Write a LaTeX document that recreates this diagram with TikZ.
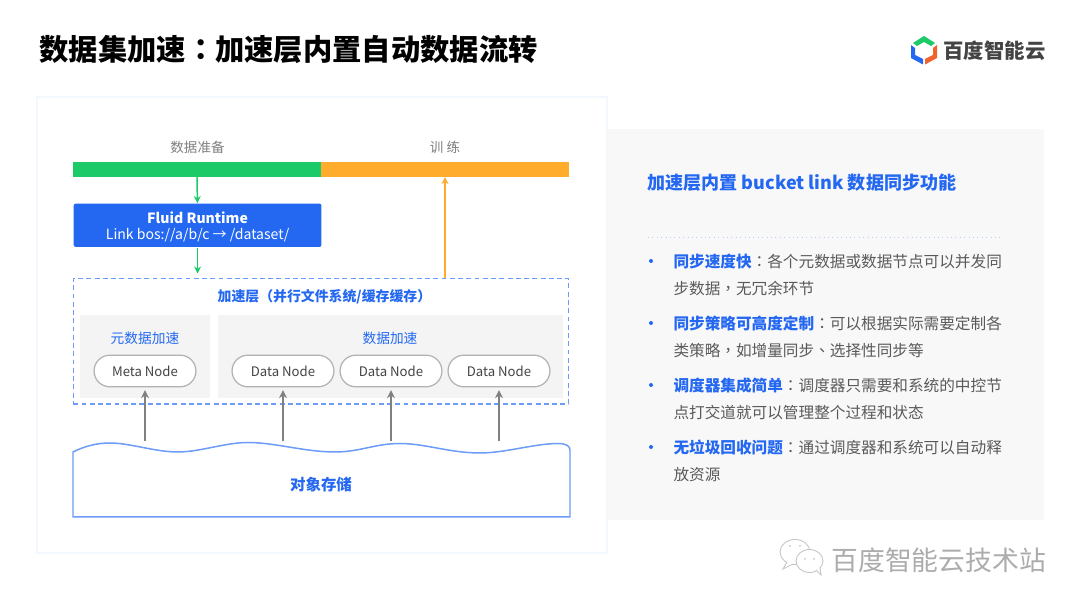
\documentclass[tikz,border=0pt]{standalone}
\usepackage{fontspec}
\setmainfont{Noto Sans CJK SC}
\newfontfamily\tcfont{Noto Sans CJK TC}
\usetikzlibrary{arrows.meta}
\definecolor{bdblue}{HTML}{2468F2}
\definecolor{bdlight}{HTML}{6C9CF7}
\definecolor{bdgreen}{HTML}{1CCB67}
\definecolor{bdorange}{HTML}{FFAB2B}
\definecolor{bdred}{HTML}{F0622E}
\definecolor{bdgray}{HTML}{F4F4F4}
\definecolor{bdpanel}{HTML}{F8F8F8}
\definecolor{bdtext}{HTML}{444444}
\definecolor{bdbody}{HTML}{5A5A5A}
\newcommand{\fsize}[1]{\fontsize{#1}{#1}\selectfont}
\newcommand{\pct}[1]{{\tcfont #1}}
\begin{document}
\begin{tikzpicture}[
        x=0.02cm,
        y=-0.02cm,
        line width=0.6pt
    ]
    \tikzset{
        titlen/.style = {anchor=west, inner sep=0pt, font=\fsize{16.68}\bfseries, text=black},
        logon/.style = {anchor=west, inner sep=0pt, font=\fsize{11.6}\bfseries, text=bdtext},
        markn/.style = {inner sep=0pt, font=\fsize{7.7}, text=gray},
        barg/.style = {fill=bdgreen, inner sep=0pt, minimum width=140.6pt, minimum height=8pt},
        baro/.style = {fill=bdorange, inner sep=0pt, minimum width=141.7pt, minimum height=8pt},
        runn/.style = {fill=bdblue, rounded corners=1.2pt, inner sep=0pt, minimum width=141pt, minimum height=24.7pt, align=center, text=white, font=\fsize{8}},
        layern/.style = {draw=bdlight, line width=0.8pt, dash pattern=on 2.8pt off 1.9pt, inner sep=0pt, minimum width=282pt, minimum height=71.4pt},
        paneln/.style = {fill=bdgray, inner sep=0pt},
        capn/.style = {inner sep=0pt, font=\fsize{7.8}, text=bdblue},
        pilln/.style = {draw=gray!60, fill=white, line width=0.7pt, rounded corners=9pt, inner sep=0pt, minimum width=58pt, minimum height=18pt, font=\fsize{7.5}, text=bdtext},
        itemn/.style = {anchor=west, inner sep=0pt, align=left, font=\fontsize{8.9}{15.3}\selectfont, text=bdbody},
        edgeg/.style = {-{Stealth[length=4pt,width=4pt]}, bdgreen, line width=0.85pt},
        edgeo/.style = {-{Stealth[length=4pt,width=4pt]}, bdorange, line width=0.85pt},
        edgeh/.style = {-{Stealth[length=4.5pt,width=4.5pt]}, gray, line width=0.95pt, shorten >=1.6pt},
    }
    \useasboundingbox (0,0) rectangle (1080,607);
    \fill[white] (0,0) rectangle (1080,607);
    \node[titlen] at (39,49) (title) {数据集加速\pct{：}加速层内置自动数据流转};
    %
    \fill[bdgreen] (924,36) -- (935,43) -- (931,46) -- (924,42) -- (917,46) -- (913,43) -- cycle;
    \fill[bdblue] (911,45) -- (915,48) -- (915,55) -- (923,59) -- (923,64.5) -- (911,58) -- cycle;
    \fill[bdred] (937,45) -- (933,48) -- (933,55) -- (925,59) -- (925,64.5) -- (937,58) -- cycle;
    \node[logon] at (943,51) (logo) {百度智能云};
    %
    \draw[draw=bdlight!8, fill=white, line width=1.2pt] (37,97) rectangle (607,553);
    \fill[bdpanel] (607,129) rectangle (1044,520);
    %
    \node[markn] at (197.5,147) (prep) {数据准备};
    \node[markn] at (445,147) (train) {训 练};
    \node[barg] at (197,169.5) (green) {};
    \node[baro] at (445,169.5) (orange) {};
    \node[runn] at (197.6,225.3) (runtime) {\rule{0pt}{8.7pt}{\bfseries Fluid Runtime}\\[1pt]Link bos://a/b/c → /dataset/};
    \node[layern] at (321,341.3) (layer) {};
    \node[capn, font=\fsize{7.9}\bfseries] at (320.5,297) (layercap) {\hspace{4.5pt}加速层（并行文件系统/缓存缓存）};
    %
    \node[paneln, minimum width=74.4pt, minimum height=46.8pt] at (145,356.5) (metabg) {};
    \node[paneln, minimum width=196.2pt, minimum height=46.8pt] at (390.5,356.5) (databg) {};
    \node[capn] at (145,338) (metacap) {元数据加速};
    \node[capn] at (390,338) (datacap) {数据加速};
    \node[pilln] at (145,371) (meta) {Meta Node};
    \node[pilln] at (283,371) (data1) {Data Node};
    \node[pilln] at (391,371) (data2) {Data Node};
    \node[pilln] at (499,371) (data3) {Data Node};
    %
    \draw[edgeg] (green) -- (runtime);
    \draw[edgeg, shorten >=2.5pt] (runtime) -- (runtime.south |- layer.north);
    \draw[edgeo] (orange.south |- layer.north) -- (orange);
    %
    \draw[draw=bdlight, fill=white, line width=0.85pt] (73,452)
        .. controls (85,446) and (97,443) .. (110,443)
        .. controls (130,443) and (155,452) .. (178,452)
        .. controls (200,452) and (225,442.5) .. (248,442.5)
        .. controls (275,442.5) and (305,452) .. (335,452)
        .. controls (360,452) and (375,443.5) .. (400,443.5)
        .. controls (425,443.5) and (450,453) .. (480,453)
        .. controls (505,453) and (535,443.5) .. (558,443.5)
        .. controls (566,443.5) and (570,446) .. (570,450)
        -- (570,517) -- (73,517) -- cycle;
    \node[capn, font=\fsize{8.8}\bfseries] at (321,485) (store) {对象存储};
    \coordinate (s1) at (145,441);
    \coordinate (s2) at (283,441);
    \coordinate (s3) at (391,441);
    \coordinate (s4) at (499,441);
    \draw[edgeh] (s1) -- (meta);
    \draw[edgeh] (s2) -- (data1);
    \draw[edgeh] (s3) -- (data2);
    \draw[edgeh] (s4) -- (data3);
    %
    \node[anchor=west, inner sep=0pt, text=bdblue, font=\fsize{10.27}\bfseries] at (647,183) (head) {加速层内置 bucket link 数据同步功能};
    \draw[bdlight!50, dotted, line width=0.5pt] (648,237) -- (1003,237);
    \foreach \yy in {261,323,385,447}
        \fill[bdblue] (651,\yy) circle (2);
    \node[itemn] at (673,274.5) (item1) {\textcolor{bdblue}{\bfseries 同步速度快}\pct{：}各个元数据或数据节点可以并发同\\步数据\pct{，}无冗余环节};
    \node[itemn] at (673,336.5) (item2) {\textcolor{bdblue}{\bfseries 同步策略可高度定制}\pct{：}可以根据实际需要定制各\\类策略\pct{，}如增量同步\pct{、}选择性同步等};
    \node[itemn] at (673,398.5) (item3) {\textcolor{bdblue}{\bfseries 调度器集成简单}\pct{：}调度器只需要和系统的中控节\\点打交道就可以管理整个过程和状态};
    \node[itemn] at (673,460.5) (item4) {\textcolor{bdblue}{\bfseries 无垃圾回收问题}\pct{：}通过调度器和系统可以自动释\\放资源};
    %
    \draw[gray!45, fill=white, line width=0.5pt] (795,552) ellipse (15 and 12.5);
    \draw[gray!45, fill=white, line width=0.5pt] (787,562) -- (783,569) -- (793,564);
    \draw[gray!45, fill=white, line width=0.5pt] (809.5,561) ellipse (13.5 and 11.5);
    \draw[gray!45, fill=white, line width=0.5pt] (816,570) -- (821,575) -- (820,567);
    \foreach \ex/\ey in {790/546,800/546,805/559,814/559}
        \fill[gray!45] (\ex,\ey) circle (1);
    \node[anchor=west, inner sep=0pt, text=gray!65, font=\fsize{15.25}] at (831,560) (mark) {百度智能云技术站};
\end{tikzpicture}
\end{document}
